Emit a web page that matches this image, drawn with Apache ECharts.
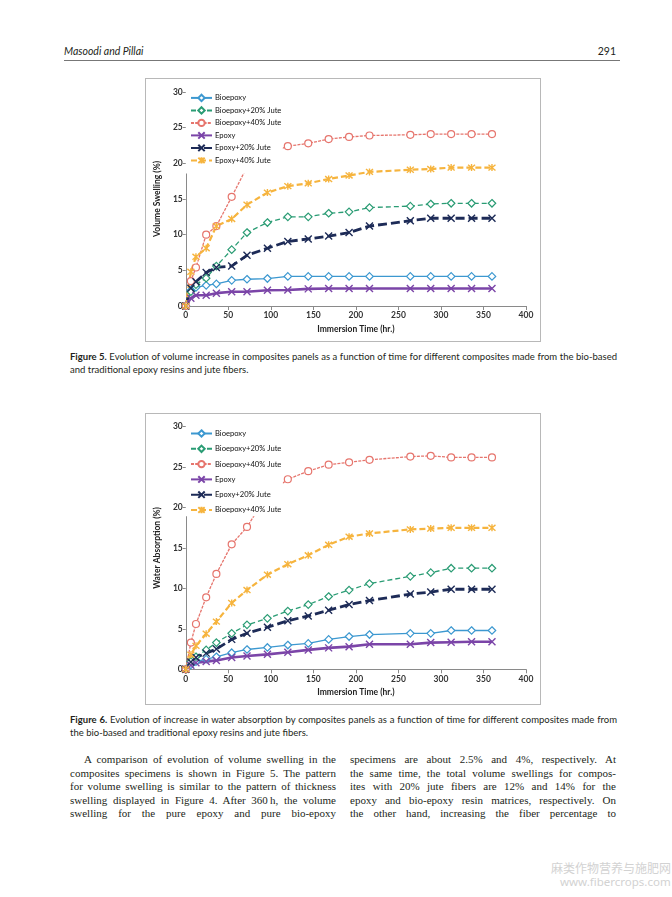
<!DOCTYPE html>
<html><head><meta charset="utf-8">
<script src="https://cdn.jsdelivr.net/npm/echarts@6/dist/echarts.min.js"></script>
<style>
html,body{margin:0;padding:0;background:#fff;}
#page{position:relative;width:672px;height:897px;overflow:hidden;background:#fff;}
.t{position:absolute;white-space:nowrap;color:#231f20;display:inline-block;}
.hd{font-family:Lato,"Liberation Sans",sans-serif;font-size:10.5px;line-height:13px;}
.cap{font-family:Lato,"Liberation Sans",sans-serif;font-size:9.5px;line-height:13px;}
.bd{font-family:"Liberation Serif","DejaVu Serif",serif;font-size:11px;line-height:13px;}
.wm{color:#d2d2d2;font-family:"Noto Sans CJK SC","Noto Sans",sans-serif;}
.box{position:absolute;border:1px solid #b8b8b8;box-sizing:border-box;pointer-events:none;}
.ch{position:absolute;}
</style></head>
<body><div id="page">
<div class="t hd" style="left:64px;top:45px;font-style:italic;">Masoodi and Pillai</div>
<div class="t hd" style="right:56px;top:45px;">291</div>
<div style="position:absolute;left:64px;top:60px;width:556px;border-top:1px solid #777;"></div>

<div id="c1" class="ch" style="left:145px;top:78px;width:396px;height:264px;"></div>
<div class="box" style="left:145px;top:78px;width:396px;height:264px;"></div>

<div class="t cap fit" data-w="547" data-j="1" style="left:70px;top:350px;"><b>Figure 5.</b> Evolution of volume increase in composites panels as a function of time for different composites made from the bio-based</div>
<div class="t cap" style="left:70px;top:363px;">and traditional epoxy resins and jute fibers.</div>

<div id="c2" class="ch" style="left:145px;top:413px;width:396px;height:292px;"></div>
<div class="box" style="left:145px;top:413px;width:396px;height:292px;"></div>

<div class="t cap fit" data-w="547" data-j="1" style="left:70px;top:713px;"><b>Figure 6.</b> Evolution of increase in water absorption by composites panels as a function of time for different composites made from</div>
<div class="t cap" style="left:70px;top:726px;">the bio-based and traditional epoxy resins and jute fibers.</div>

<div class="t bd fit" data-w="252" data-j="1" style="left:84px;top:753px;">A comparison of evolution of volume swelling in the</div>
<div class="t bd fit" data-w="266" data-j="1" style="left:70px;top:766.5px;">composites specimens is shown in Figure 5. The pattern</div>
<div class="t bd fit" data-w="266" data-j="1" style="left:70px;top:780px;">for volume swelling is similar to the pattern of thickness</div>
<div class="t bd fit" data-w="266" data-j="1" style="left:70px;top:793.5px;">swelling displayed in Figure 4. After 360&#8201;h, the volume</div>
<div class="t bd fit" data-w="266" data-j="1" style="left:70px;top:807px;">swelling for the pure epoxy and pure bio-epoxy</div>

<div class="t bd fit" data-w="266" data-j="1" style="left:350px;top:753px;">specimens are about 2.5% and 4%, respectively. At</div>
<div class="t bd fit" data-w="266" data-j="1" style="left:350px;top:766.5px;">the same time, the total volume swellings for compos-</div>
<div class="t bd fit" data-w="266" data-j="1" style="left:350px;top:780px;">ites with 20% jute fibers are 12% and 14% for the</div>
<div class="t bd fit" data-w="266" data-j="1" style="left:350px;top:793.5px;">epoxy and bio-epoxy resin matrices, respectively. On</div>
<div class="t bd fit" data-w="266" data-j="1" style="left:350px;top:807px;">the other hand, increasing the fiber percentage to</div>

<div class="t wm" style="left:551px;top:860px;font-size:12px;line-height:16px;">麻类作物营养与施肥网</div>
<div class="t wm" style="left:560px;top:875px;font-size:11.5px;line-height:14px;font-family:'Noto Sans',sans-serif;">www.fibercrops.com</div>
</div>
<script>
// ---------- data ----------
const times = [0, 6, 12, 24, 36, 54, 72, 96, 120, 144, 168, 192, 216, 264, 288, 312, 336, 360];
const seriesNames = ['Bioepoxy', 'Bioepoxy+20% Jute', 'Bioepoxy+40% Jute', 'Epoxy', 'Epoxy+20% Jute', 'Epoxy+40% Jute'];
const legendLabels5 = ['Bioepoxy', 'Bioepoxy+20% Jute', 'Bioepoxy+40% Jute', 'Epoxy', 'Epoxy+20% Jute', 'Epoxy+40% Jute'];
const legendLabels6 = ['Bioepoxy', 'Bioepoxy+20% Jute', 'Bioepoxy+40% Jute', 'Epoxy', 'Epoxy+20% Jute', 'Bioepoxy+40% Jute'];
const xTicks = [0, 50, 100, 150, 200, 250, 300, 350, 400];
const yTicks = [0, 5, 10, 15, 20, 25, 30];

// Figure 5: volume swelling (%)
const volBio    = [0, 2.2, 2.6, 2.9, 3.1, 3.6, 3.75, 3.85, 4.15, 4.15, 4.15, 4.15, 4.15, 4.15, 4.15, 4.15, 4.15, 4.15];
const volBio20  = [0, 2.0, 3.0, 3.9, 5.6, 7.9, 10.3, 11.7, 12.5, 12.5, 13.0, 13.2, 13.8, 14.0, 14.3, 14.4, 14.4, 14.4];
const volBio40  = [0, 3.5, 5.4, 10.0, 11.2, 15.3, 19.5, 21.3, 22.4, 22.8, 23.4, 23.7, 23.9, 24.0, 24.1, 24.1, 24.1, 24.1];
const volEp     = [0, 1.1, 1.5, 1.5, 1.8, 2.0, 2.0, 2.2, 2.25, 2.4, 2.45, 2.45, 2.45, 2.45, 2.45, 2.45, 2.45, 2.45];
const volEp20   = [0, 2.5, 3.4, 4.7, 5.4, 5.6, 7.1, 8.1, 9.05, 9.4, 9.8, 10.3, 11.2, 11.95, 12.3, 12.3, 12.3, 12.3];
const volEp40   = [0, 4.8, 6.9, 8.1, 11.2, 12.2, 14.2, 15.9, 16.8, 17.2, 17.8, 18.3, 18.8, 19.1, 19.2, 19.4, 19.4, 19.4];

// Figure 6: water absorption (%)
const watBio    = [0, 0.55, 0.95, 1.25, 1.55, 2.05, 2.45, 2.7, 3.0, 3.2, 3.7, 4.05, 4.3, 4.45, 4.45, 4.8, 4.8, 4.8];
const watBio20  = [0, 0.95, 1.55, 2.4, 3.3, 4.45, 5.5, 6.3, 7.2, 8.0, 9.0, 9.8, 10.6, 11.5, 11.95, 12.5, 12.5, 12.5];
const watBio40  = [0, 3.3, 5.6, 8.9, 11.8, 15.45, 17.6, 21.6, 23.5, 24.5, 25.3, 25.6, 25.9, 26.3, 26.4, 26.2, 26.2, 26.2];
const watEp     = [0, 0.5, 0.8, 0.95, 1.1, 1.45, 1.65, 1.85, 2.1, 2.4, 2.65, 2.8, 3.1, 3.1, 3.3, 3.35, 3.4, 3.4];
const watEp20   = [0, 0.9, 1.45, 2.0, 2.5, 3.7, 4.45, 5.2, 6.0, 6.6, 7.3, 8.0, 8.5, 9.3, 9.55, 9.9, 9.9, 9.9];
const watEp40   = [0, 1.8, 2.9, 4.4, 5.9, 8.2, 9.8, 11.7, 13.0, 14.1, 15.4, 16.4, 16.8, 17.3, 17.4, 17.5, 17.5, 17.5];

// ---------- styles ----------
const XPATH = 'path://M0 0L10 10M10 0L0 10';
const STAR = 'path://M0 0L10 10M10 0L0 10M5 -1L5 11';
const styles = [
  {color:'#3c98d0', width:1.3, type:'solid', symbol:'diamond', size:7.5, hollow:true},
  {color:'#2a9c74', width:1.3, type:[5,3], symbol:'diamond', size:7.5, hollow:true},
  {color:'#e6756d', width:1.3, type:[3,1.2], symbol:'circle', size:7, hollow:true},
  {color:'#7b45a8', width:2.6, type:'solid', symbol:XPATH, size:7, hollow:false},
  {color:'#1d2b57', width:2.8, type:[9,4], symbol:XPATH, size:7, hollow:false},
  {color:'#f6b43e', width:2.2, type:[6,3], symbol:STAR, size:7, hollow:false}
];
const FONT = 'Lato, "Liberation Sans", sans-serif';

function makeOption(cfg) {
  const series = cfg.values.map((vals, i) => {
    const s = styles[i];
    return {
      name: seriesNames[i],
      type: 'line',
      data: times.map((t, k) => [t, vals[k]]),
      color: s.color,
      symbol: s.symbol,
      symbolSize: s.size,
      showAllSymbol: true,
      lineStyle: {color: s.color, width: s.width, type: s.type},
      itemStyle: s.hollow ? {color:'#fff', borderColor:s.color, borderWidth:1.2}
                          : {color:s.color, borderColor:s.color, borderWidth:1.4},
      emphasis: {disabled: true},
      animation: false,
      z: 2
    };
  });
  return {
    animation: false,
    grid: {left: 37, right: 15, top: cfg.top, bottom: cfg.bottom, containLabel: false},
    legend: {
      orient: 'vertical', left: 41, top: cfg.legendTop,
      data: seriesNames,
      itemWidth: 21, itemHeight: 8, itemGap: cfg.legendGap,
      padding: cfg.legendPad,
      backgroundColor: '#fff',
      selectedMode: false,
      z: 10,
      formatter: name => cfg.labels[seriesNames.indexOf(name)],
      textStyle: {fontFamily: FONT, fontSize: 7.6, color: '#111', padding: [0,0,0,-2]}
    },
    xAxis: {
      type: 'value', min: xTicks[0], max: xTicks[xTicks.length-1], interval: xTicks[1]-xTicks[0],
      name: 'Immersion Time (hr.)', nameLocation: 'middle', nameGap: 16,
      nameTextStyle: {fontFamily: FONT, fontSize: 8.5, fontWeight: 'bold', color: '#222'},
      axisLine: {lineStyle: {color: '#8a8a8a', width: 1}},
      axisTick: {show: true, length: 4, inside: false, lineStyle: {color: '#8a8a8a'}},
      axisLabel: {fontFamily: FONT, fontSize: 8.5, fontWeight: 'bold', color: '#333', margin: 5},
      splitLine: {show: false}
    },
    yAxis: {
      type: 'value', min: yTicks[0], max: yTicks[yTicks.length-1], interval: yTicks[1]-yTicks[0],
      name: cfg.yName, nameLocation: 'middle', nameGap: 19,
      nameTextStyle: {fontFamily: FONT, fontSize: 8.5, fontWeight: 'bold', color: '#222'},
      axisLine: {show: true, lineStyle: {color: '#8a8a8a', width: 1}},
      axisTick: {show: true, length: 3, inside: false, lineStyle: {color: '#8a8a8a'}},
      axisLabel: {fontFamily: FONT, fontSize: 8.5, fontWeight: 'bold', color: '#333', margin: 3},
      splitLine: {show: false}
    },
    series: series
  };
}

const chart1 = echarts.init(document.getElementById('c1'), null, {renderer: 'canvas'});
chart1.setOption(makeOption({
  values: [volBio, volBio20, volBio40, volEp, volEp20, volEp40],
  labels: legendLabels5, yName: 'Volume Swelling (%)',
  top: 14, bottom: 36, legendTop: 11.7, legendGap: 4.1, legendPad: [4,1.5,9,4]
}));
const chart2 = echarts.init(document.getElementById('c2'), null, {renderer: 'canvas'});
chart2.setOption(makeOption({
  values: [watBio, watBio20, watBio40, watEp, watEp20, watEp40],
  labels: legendLabels6, yName: 'Water Absorption (%)',
  top: 13.7, bottom: 35.7, legendTop: 12.3, legendGap: 6.9, legendPad: [4,1.5,2,4]
}));

// ---------- fit text lines ----------
document.querySelectorAll('.fit').forEach(el => {
  const W = parseFloat(el.dataset.w);
  const w = el.getBoundingClientRect().width;
  if (w > W) {
    el.style.transformOrigin = '0 0';
    el.style.transform = 'scaleX(' + (W / w) + ')';
  } else if (el.dataset.j === '1') {
    const n = (el.textContent.match(/ /g) || []).length;
    if (n > 0) el.style.wordSpacing = ((W - w) / n) + 'px';
  }
});
</script>
</body></html>
